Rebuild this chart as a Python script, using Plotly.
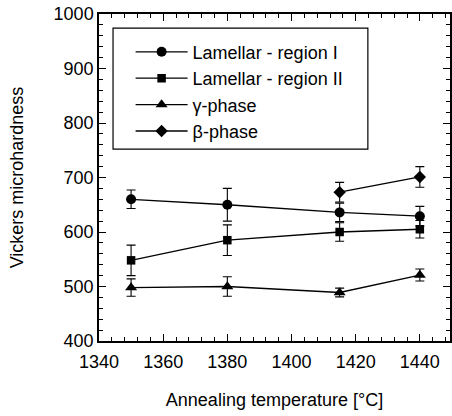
import plotly.graph_objects as go

temps = [1350, 1380, 1415, 1440]
lam1 = [660, 650, 636, 629]
lam1_err = [17, 30, 17, 18]
lam2 = [548, 585, 600, 605]
lam2_err = [28, 28, 17, 16]
gamma = [498, 500, 489, 521]
gamma_err = [16, 18, 8, 11]
beta_t = [1415, 1440]
beta = [673, 701]
beta_err = [18, 19]

names = ["Lamellar - region I", "Lamellar - region II", "γ-phase", "β-phase"]
symbols = ["circle", "square", "triangle-up", "diamond"]
sizes = [10, 8.5, 10.5, 9.5]

FONT = "Liberation Sans, Arial, Helvetica, sans-serif"

fig = go.Figure()
series = [(temps, lam1, lam1_err), (temps, lam2, lam2_err), (temps, gamma, gamma_err), (beta_t, beta, beta_err)]
for (x, y, e), n, s, sz in zip(series, names, symbols, sizes):
    fig.add_trace(go.Scatter(
        x=x, y=y, name=n, mode="lines+markers",
        line=dict(color="black", width=1.3),
        marker=dict(symbol=s, size=sz, color="black"),
        error_y=dict(type="data", array=e, visible=True, color="black", thickness=1.1, width=4.5),
    ))

axis_common = dict(
    showline=True, linecolor="black", linewidth=1.5, mirror="ticks",
    ticks="inside", ticklen=7, tickcolor="black", tickwidth=1,
    showgrid=False, zeroline=False, automargin=False,
    ticklabeloverflow="allow",
    tickfont=dict(family=FONT, size=18, color="black"),
)

fig.update_layout(
    width=452, height=416,
    margin=dict(l=99, r=2, t=14, b=75),
    paper_bgcolor="white", plot_bgcolor="white",
    font=dict(family=FONT, color="black"),
    xaxis=dict(range=[1340, 1449.4], dtick=20, tick0=1340,
               minor=dict(dtick=4, ticks="inside", ticklen=4, tickcolor="black"),
               ticklabelstandoff=4,
               title=dict(text="Annealing temperature [°C]", font=dict(size=18), standoff=22),
               **axis_common),
    yaxis=dict(range=[400, 1000], dtick=100,
               minor=dict(dtick=20, ticks="inside", ticklen=4, tickcolor="black"),
               title=dict(text="Vickers microhardness", font=dict(size=18), standoff=25),
               **axis_common),
    legend=dict(x=0.09, y=0.94, xanchor="left", yanchor="top",
                borderwidth=0, bgcolor="rgba(0,0,0,0)",
                font=dict(family=FONT, size=18), itemwidth=52, tracegroupgap=0),
    shapes=[dict(type="rect", xref="paper", yref="paper",
                 x0=0.04, x1=0.766, y0=0.587, y1=0.957,
                 line=dict(color="black", width=1.2), fillcolor="white", layer="below")],
    showlegend=True,
)

fig.write_html("out.html", config={"displayModeBar": False},
               post_script="document.body.style.margin='0';")
